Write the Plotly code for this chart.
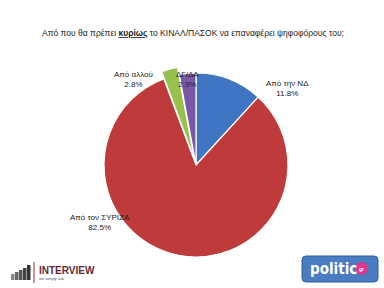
import plotly.graph_objects as go

labels = ["Από την ΝΔ", "Από τον ΣΥΡΙΖΑ", "Από αλλού", "ΔΓ/ΔΑ"]
values = [11.8, 82.5, 2.8, 2.9]
colors = ["#3F75C2", "#BF3A3A", "#98C04C", "#7A58A8"]
pulls = [0, 0, 0.08, 0]

W, H = 384, 288
# label centers in pixels (styling)
label_pos = [(287, 88), (100, 222), (133, 79), (187, 79)]

cx, cy, R = 196, 165, 92
Rd = R * (1 + max(pulls))

def px(x):
    return x / W

def py(y):
    return (H - y) / H

fig = go.Figure()
fig.add_trace(go.Pie(
    labels=labels, values=values, sort=False, direction="clockwise", rotation=0,
    marker=dict(colors=colors, line=dict(color="white", width=1.2)),
    pull=pulls, textinfo="none", hoverinfo="skip", showlegend=False,
    domain=dict(x=[px(cx - Rd), px(cx + Rd)], y=[py(cy + Rd), py(cy - Rd)]),
))

for lab, val, (lx, ly) in zip(labels, values, label_pos):
    fig.add_annotation(x=px(lx), y=py(ly), xref="paper", yref="paper", showarrow=False,
                       xanchor="center", yanchor="middle",
                       text=f"{lab}<br>{val:.1f}%", align="center",
                       font=dict(family="Liberation Sans, Arial", size=8, color="#222"))

fig.add_annotation(x=px(193), y=py(33), xref="paper", yref="paper", showarrow=False,
                   xanchor="center", yanchor="middle",
                   text="Από που θα πρέπει <b><u>κυρίως</u></b> το ΚΙΝΑΛ/ΠΑΣΟΚ να επαναφέρει ψηφοφόρους του;",
                   font=dict(family="Liberation Sans, Arial", size=8.5, color="#222"))

shapes = []
# INTERVIEW logo icon
bx = [11, 15, 19, 23, 27]
bh = [6, 8, 10, 12, 15]
bc = ["#888", "#666", "#555", "#444", "#333"]
for x0, h, c in zip(bx, bh, bc):
    shapes.append(dict(type="rect", xref="paper", yref="paper",
                       x0=px(x0), x1=px(x0 + 3.5), y0=py(280), y1=py(280 - h),
                       line=dict(width=0), fillcolor=c))
shapes.append(dict(type="line", xref="paper", yref="paper", x0=px(34), x1=px(34),
                   y0=py(283), y1=py(262), line=dict(color="#8B2C3A", width=1)))

# politic.gr logo: rounded rectangle
x0, x1, y0, y1, r = 302, 378, 256, 282, 4
pts = (f"M {px(x0 + r)} {py(y0)} L {px(x1 - r)} {py(y0)} "
       f"Q {px(x1)} {py(y0)} {px(x1)} {py(y0 + r)} L {px(x1)} {py(y1 - r)} "
       f"Q {px(x1)} {py(y1)} {px(x1 - r)} {py(y1)} L {px(x0 + r)} {py(y1)} "
       f"Q {px(x0)} {py(y1)} {px(x0)} {py(y1 - r)} L {px(x0)} {py(y0 + r)} "
       f"Q {px(x0)} {py(y0)} {px(x0 + r)} {py(y0)} Z")
shapes.append(dict(type="path", xref="paper", yref="paper", path=pts,
                   fillcolor="#4A7CC2", line=dict(color="#2F5E9E", width=1)))
shapes.append(dict(type="circle", xref="paper", yref="paper", x0=px(355), x1=px(368),
                   y0=py(275), y1=py(262), fillcolor="#E0358A", line=dict(width=0)))
fig.update_layout(shapes=shapes)

fig.add_annotation(x=px(37), y=py(270), xref="paper", yref="paper", showarrow=False,
                   xanchor="left", yanchor="middle", text="<b>INTERVIEW</b>",
                   font=dict(family="Liberation Sans, Arial", size=10, color="#5E2A38"))
fig.add_annotation(x=px(37), y=py(278), xref="paper", yref="paper", showarrow=False,
                   xanchor="left", yanchor="middle", text="we simply ask",
                   font=dict(family="Liberation Sans, Arial", size=4, color="#555"))
fig.add_annotation(x=px(333), y=py(269), xref="paper", yref="paper", showarrow=False,
                   xanchor="center", yanchor="middle", text="<b>politic</b>",
                   font=dict(family="DejaVu Sans Condensed, Liberation Sans", size=15, color="white"))
fig.add_annotation(x=px(361.5), y=py(268.5), xref="paper", yref="paper", showarrow=False,
                   xanchor="center", yanchor="middle", text="<b>gr</b>",
                   font=dict(family="Liberation Sans", size=5, color="white"))

fig.update_layout(width=W, height=H, margin=dict(l=0, r=0, t=0, b=0),
                  paper_bgcolor="white", plot_bgcolor="white")
fig.write_html("out.html")
